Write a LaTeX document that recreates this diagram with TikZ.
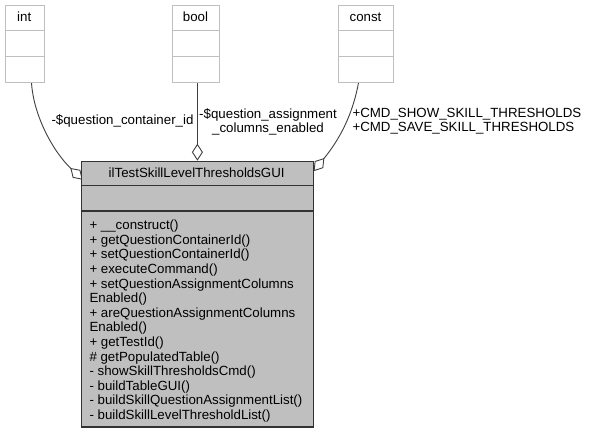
\documentclass[tikz,border=0pt]{standalone}
\usepackage{fontspec}
\setmainfont{Liberation Sans}
\usetikzlibrary{arrows.meta}
\pgfdeclarelayer{bg}
\pgfsetlayers{bg,main}
\definecolor{greyA}{HTML}{BFBFBF}
\definecolor{greyE}{HTML}{404040}
\definecolor{greyB}{HTML}{333333}
\tikzset{
  txt/.style={font=\fontsize{13.3}{14}\selectfont, inner sep=0pt, outer sep=0pt, text=black},
  smallbox/.style={draw=greyA, line width=1pt, fill=white, inner sep=0pt, anchor=north west},
  mainbox/.style={draw=greyB, line width=1.4pt, fill=greyA, inner sep=0pt, anchor=north west},
  sepsmall/.style={draw=greyA, line width=1pt},
  sepmain/.style={draw=greyB, line width=1.4pt},
  edge/.style={draw=greyE, line width=0.9pt, -{Diamond[open, length=17pt, width=11pt, line width=0.9pt]}},
}
\begin{document}
\begin{tikzpicture}[x=1pt,y=-1pt]
\begin{pgfonlayer}{bg}
\useasboundingbox[fill=white] (0,0) rectangle (589,433);
\end{pgfonlayer}

% small boxes
\node[smallbox, minimum width=39pt, minimum height=76.7pt] (intbox) at (4.7,5) {};
\draw[sepsmall] (intbox.west |- 0,31) -- (intbox.east |- 0,31);
\draw[sepsmall] (intbox.west |- 0,56.7) -- (intbox.east |- 0,56.7);
\node[txt, anchor=base] (intlbl) at (24.2,22) {int};

\node[smallbox, minimum width=47.6pt, minimum height=76.7pt] (boolbox) at (171.7,5) {};
\draw[sepsmall] (boolbox.west |- 0,31) -- (boolbox.east |- 0,31);
\draw[sepsmall] (boolbox.west |- 0,56.7) -- (boolbox.east |- 0,56.7);
\node[txt, anchor=base] (boollbl) at (195.5,22) {bool};

\node[smallbox, minimum width=55pt, minimum height=76.7pt] (constbox) at (338,5) {};
\draw[sepsmall] (constbox.west |- 0,31) -- (constbox.east |- 0,31);
\draw[sepsmall] (constbox.west |- 0,56.7) -- (constbox.east |- 0,56.7);
\node[txt, anchor=base] (constlbl) at (365.5,22) {const};

% main box
\node[mainbox, minimum width=232pt, minimum height=265.5pt] (main) at (80.7,160.7) {};
\draw[sepmain] (main.west |- 0,185.5) -- (main.east |- 0,185.5);
\draw[sepmain] (main.west |- 0,211) -- (main.east |- 0,211);
\node[txt, anchor=base] (title) at (196.7,178) {ilTestSkillLevelThresholdsGUI};

\foreach \t [count=\i] in {
  {+ \_\_construct()},
  {+ getQuestionContainerId()},
  {+ setQuestionContainerId()},
  {+ executeCommand()},
  {+ setQuestionAssignmentColumns},
  {Enabled()},
  {+ areQuestionAssignmentColumns},
  {Enabled()},
  {+ getTestId()},
  {\# getPopulatedTable()},
  {- showSkillThresholdsCmd()},
  {- buildTableGUI()},
  {- buildSkillQuestionAssignmentList()},
  {- buildSkillLevelThresholdList()}}
  \node[txt, anchor=base west] (m\i) at (89.5, {229.7+14.6*(\i-1)}) {\t};

% edges (behind the boxes)
\begin{pgfonlayer}{bg}
\draw[edge] ([xshift=6.8pt]intbox.south) .. controls ++(2,33) and ++(-29.5,-28) .. ([xshift=2pt,yshift=-19pt]main.north west);
\draw[edge] (boolbox.south -| main.north) -- (main.north);
\draw[edge] ([xshift=-7.5pt]constbox.south) .. controls ++(-6,33) and ++(25.3,-31) .. ([xshift=-0.5pt,yshift=-10.5pt]main.north east);
\end{pgfonlayer}

% edge labels
\node[txt, anchor=base] (l1) at (122.5,124.3) {-\$question\_container\_id};
\node[txt, align=center, anchor=center] (l2) at (268,121.6) {-\$question\_assignment\\\_columns\_enabled};
\node[txt, align=left, anchor=west] (l3) at (352.5,121.6) {+CMD\_SHOW\_SKILL\_THRESHOLDS\\+CMD\_SAVE\_SKILL\_THRESHOLDS};
\end{tikzpicture}
\end{document}
